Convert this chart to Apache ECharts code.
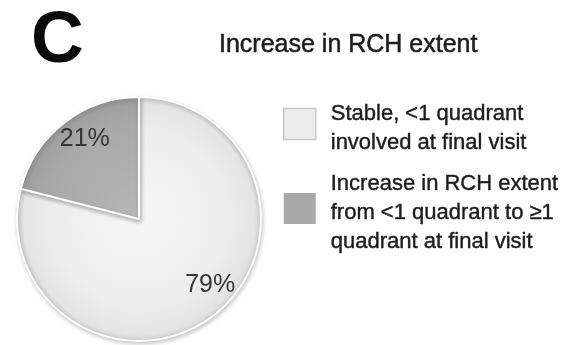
<!DOCTYPE html>
<html>
<head>
<meta charset="utf-8">
<script src="https://cdn.jsdelivr.net/npm/echarts@6/dist/echarts.min.js"></script>
<style>
  html, body { margin: 0; padding: 0; background: #ffffff; }
  #chart { width: 566px; height: 345px; }
</style>
</head>
<body>
<div id="chart"></div>
<script>
// Share of eyes by change in RCH extent at the final visit
const categories = [
  'Stable, <1 quadrant\ninvolved at final visit',
  'Increase in RCH extent\nfrom <1 quadrant to \u22651\nquadrant at final visit'
];
const percentages = [79, 21];
const panelLetter = 'C';
const chartTitle = 'Increase in RCH extent';

const CX = 139, CY = 219, R = 122;
const TEXT = '#1c1c1c';

const lightFill = {
  type: 'radial', x: CX, y: CY, r: R, global: true,
  colorStops: [
    { offset: 0, color: '#f7f7f7' },
    { offset: 0.7, color: '#ededed' },
    { offset: 0.95, color: '#e4e4e4' },
    { offset: 1, color: '#cfcfcf' }
  ]
};
const darkFill = {
  type: 'radial', x: CX, y: CY, r: R, global: true,
  colorStops: [
    { offset: 0, color: '#b6b6b6' },
    { offset: 0.8, color: '#a8a8a8' },
    { offset: 1, color: '#9c9c9c' }
  ]
};

const chart = echarts.init(document.getElementById('chart'), null, { renderer: 'canvas' });

chart.setOption({
  backgroundColor: '#ffffff',
  animation: false,
  title: [
    {
      text: panelLetter, left: 26, top: 0,
      textStyle: { fontFamily: 'Liberation Sans', fontSize: 73, fontWeight: 'bold', color: '#0a0a0a' }
    },
    {
      text: chartTitle, left: 214, top: 28,
      textStyle: {
        fontFamily: 'Liberation Sans', fontSize: 25, fontWeight: 'normal', color: TEXT,
        textBorderColor: TEXT, textBorderWidth: 0.5
      }
    }
  ],
  legend: {
    orient: 'vertical',
    left: 283, top: 90.5,
    padding: 0,
    itemWidth: 32, itemHeight: 31,
    itemGap: 3,
    // a short blank first line drops the label a little below the swatch centre
    formatter: name => '{gap| }\n' + name,
    textStyle: {
      fontFamily: 'Liberation Sans', fontSize: 22, lineHeight: 29, color: TEXT,
      textBorderColor: TEXT, textBorderWidth: 0.4,
      padding: [0, 0, 0, 10],
      rich: { gap: { fontSize: 1, lineHeight: 9 } }
    },
    data: [
      { name: categories[0], icon: 'rect', itemStyle: { color: '#ececec', borderColor: '#c9c9c9', borderWidth: 1.5 } },
      { name: categories[1], icon: 'rect', itemStyle: { color: '#a9a9a9', borderColor: '#a9a9a9', borderWidth: 0 } }
    ]
  },
  series: [{
    type: 'pie',
    center: [CX, CY],
    radius: [0, R],
    startAngle: 90,
    clockwise: true,
    silent: true,
    label: {
      show: true,
      position: 'inside',
      fontFamily: 'Liberation Sans',
      fontSize: 25,
      color: '#363636',
      formatter: p => p.value + '%'
    },
    labelLine: { show: false },
    itemStyle: {
      borderColor: '#ffffff',
      borderWidth: 2,
      shadowBlur: 4,
      shadowColor: 'rgba(0,0,0,0.2)',
      shadowOffsetX: 1,
      shadowOffsetY: 2
    },
    data: [
      { name: categories[0], value: percentages[0], itemStyle: { color: lightFill }, label: { offset: [32, 16] } },
      { name: categories[1], value: percentages[1], itemStyle: { color: darkFill }, label: { offset: [-15, -29] } }
    ]
  }]
});
</script>
</body>
</html>
